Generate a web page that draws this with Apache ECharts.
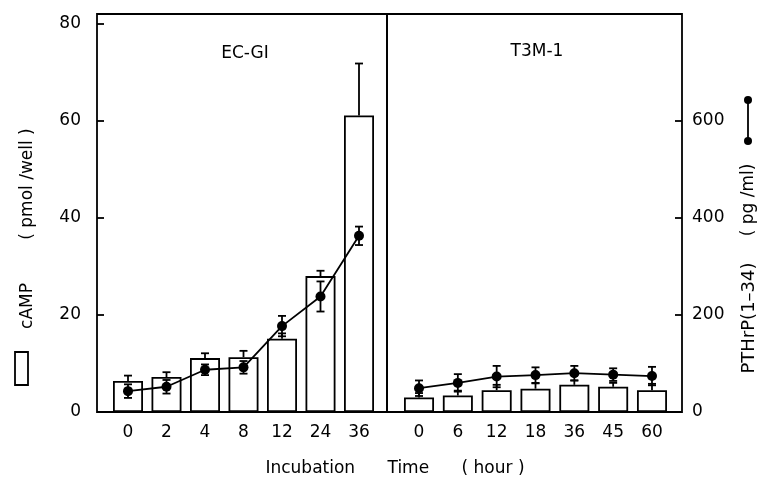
<!DOCTYPE html>
<html>
<head>
<meta charset="utf-8">
<script src="https://cdn.jsdelivr.net/npm/echarts@6/dist/echarts.min.js"></script>
<style>
  html, body { margin: 0; padding: 0; background: #fff; }
  #chart { width: 759px; height: 477px; }
</style>
</head>
<body>
<div id="chart"></div>
<script>
// 横轴分类（小时）
var leftHours = ['0', '2', '4', '8', '12', '24', '36'];
var rightHours = ['0', '6', '12', '18', '36', '45', '60'];

// EC-GI
var ecgiCamp = [6.4, 7.2, 11.1, 11.3, 15.1, 28.0, 61.1];
var ecgiCampErr = [1.1, 1.0, 1.0, 1.3, 1.1, 1.1, 10.7];
var ecgiPthrp = [43, 52, 87, 92, 177, 238, 363];
var ecgiPthrpErr = [14, 14, 11, 13, 21, 31, 19];

// T3M-1
var t3mCamp = [3.0, 3.4, 4.5, 4.8, 5.6, 5.2, 4.5];
var t3mCampErr = [0.9, 1.0, 1.1, 1.1, 0.9, 0.8, 1.3];
var t3mPthrp = [49, 60, 73, 76, 80, 77, 74];
var t3mPthrpErr = [16, 18, 22, 16, 15, 13, 19];

// 纵轴刻度
var leftTicks = [0, 20, 40, 60, 80];
var rightTicks = [0, 200, 400, 600];

var FONT = 'DejaVu Sans';
var LW = 1.8;

function errData(vals, errs) {
  return vals.map(function (v, i) { return [i, v, errs[i]]; });
}

// 误差线，both=true 时上下都画
function errorItem(both) {
  return function (params, api) {
    var x = api.value(0), v = api.value(1), e = api.value(2);
    var top = api.coord([x, v + e]);
    var bot = api.coord([x, both ? v - e : v]);
    var w = 8;
    var st = { stroke: '#000', lineWidth: LW };
    var children = [
      { type: 'line', shape: { x1: top[0], y1: top[1], x2: bot[0], y2: bot[1] }, style: st },
      { type: 'line', shape: { x1: top[0] - w / 2, y1: top[1], x2: top[0] + w / 2, y2: top[1] }, style: st }
    ];
    if (both) {
      children.push({ type: 'line', shape: { x1: bot[0] - w / 2, y1: bot[1], x2: bot[0] + w / 2, y2: bot[1] }, style: st });
    }
    return { type: 'group', children: children };
  };
}

var chart = echarts.init(document.getElementById('chart'));

var hiddenY = function (grid, max) {
  return { type: 'value', gridIndex: grid, min: 0, max: max, show: false, splitLine: { show: false } };
};

var catX = function (grid, data) {
  return {
    type: 'category', gridIndex: grid, data: data, boundaryGap: true,
    axisLine: { show: false }, axisTick: { show: false },
    axisLabel: { color: '#000', fontFamily: FONT, fontSize: 17, margin: 12 }
  };
};

var txt = { fontFamily: FONT, fontSize: 17, fontWeight: 'normal', color: '#000' };

var option = {
  animation: false,
  backgroundColor: '#fff',
  title: [
    { text: 'EC-GI', left: 240, top: 40, textAlign: 'center', textStyle: txt },
    { text: 'T3M-1', left: 532, top: 38, textAlign: 'center', textStyle: txt },
    { text: 'Incubation      Time      ( hour )', left: 390, top: 455, textAlign: 'center', textStyle: txt }
  ],
  grid: [
    // 外框
    { left: 97, top: 14, width: 290, height: 398, show: true, borderColor: '#000', borderWidth: LW },
    { left: 108.75, top: 14, width: 269.5, height: 398 },
    { left: 387, top: 14, width: 295, height: 398, show: true, borderColor: '#000', borderWidth: LW },
    { left: 399.6, top: 14, width: 271.8, height: 398 }
  ],
  xAxis: [
    { type: 'value', gridIndex: 0, show: false },
    catX(1, leftHours),
    { type: 'value', gridIndex: 2, show: false },
    catX(3, rightHours)
  ],
  yAxis: [
    {
      type: 'value', gridIndex: 0, position: 'left', min: 0, max: 82, interval: 20,
      axisLine: { show: false, onZero: false }, splitLine: { show: false },
      axisTick: { show: true, inside: true, length: 7, customValues: leftTicks, lineStyle: { color: '#000', width: LW } },
      axisLabel: { customValues: leftTicks, color: '#000', fontFamily: FONT, fontSize: 17, margin: 16 }
    },
    hiddenY(1, 82),
    hiddenY(1, 820),
    hiddenY(3, 82),
    hiddenY(3, 820),
    {
      type: 'value', gridIndex: 2, position: 'right', min: 0, max: 820, interval: 200,
      axisLine: { show: false, onZero: false }, splitLine: { show: false },
      axisTick: { show: true, inside: true, length: 7, customValues: rightTicks, lineStyle: { color: '#000', width: LW } },
      axisLabel: { customValues: rightTicks, color: '#000', fontFamily: FONT, fontSize: 17, margin: 10 }
    }
  ],
  series: [
    {
      type: 'bar', xAxisIndex: 1, yAxisIndex: 1, data: ecgiCamp, barWidth: 30,
      itemStyle: { color: '#fff', borderColor: '#000', borderWidth: LW }
    },
    {
      type: 'custom', xAxisIndex: 1, yAxisIndex: 1, data: errData(ecgiCamp, ecgiCampErr),
      renderItem: errorItem(false), encode: { x: 0, y: 1 }, z: 3
    },
    {
      type: 'line', xAxisIndex: 1, yAxisIndex: 2, data: ecgiPthrp, symbol: 'circle', symbolSize: 10,
      itemStyle: { color: '#000' }, lineStyle: { color: '#000', width: LW }, z: 4
    },
    {
      type: 'custom', xAxisIndex: 1, yAxisIndex: 2, data: errData(ecgiPthrp, ecgiPthrpErr),
      renderItem: errorItem(true), encode: { x: 0, y: 1 }, z: 4
    },
    {
      type: 'bar', xAxisIndex: 3, yAxisIndex: 3, data: t3mCamp, barWidth: 30,
      itemStyle: { color: '#fff', borderColor: '#000', borderWidth: LW }
    },
    {
      type: 'custom', xAxisIndex: 3, yAxisIndex: 3, data: errData(t3mCamp, t3mCampErr),
      renderItem: errorItem(false), encode: { x: 0, y: 1 }, z: 3
    },
    {
      type: 'line', xAxisIndex: 3, yAxisIndex: 4, data: t3mPthrp, symbol: 'circle', symbolSize: 10,
      itemStyle: { color: '#000' }, lineStyle: { color: '#000', width: LW }, z: 4
    },
    {
      type: 'custom', xAxisIndex: 3, yAxisIndex: 4, data: errData(t3mPthrp, t3mPthrpErr),
      renderItem: errorItem(true), encode: { x: 0, y: 1 }, z: 4
    }
  ],
  graphic: [
    // 左侧纵轴标题与图例方框
    { type: 'text', x: 28, y: 306, rotation: Math.PI / 2,
      style: { text: 'cAMP', fontFamily: FONT, fontSize: 17, fill: '#000', align: 'center', verticalAlign: 'middle' } },
    { type: 'text', x: 28, y: 184, rotation: Math.PI / 2,
      style: { text: '( pmol /well )', fontFamily: FONT, fontSize: 17, fill: '#000', align: 'center', verticalAlign: 'middle' } },
    { type: 'rect', shape: { x: 15, y: 352, width: 13, height: 33 }, style: { fill: '#fff', stroke: '#000', lineWidth: LW } },
    // 右侧纵轴标题与图例
    { type: 'text', x: 749, y: 318, rotation: Math.PI / 2,
      style: { text: 'PTHrP(1\u201334)', fontFamily: FONT, fontSize: 18, fill: '#000', align: 'center', verticalAlign: 'middle' } },
    { type: 'text', x: 749, y: 200, rotation: Math.PI / 2,
      style: { text: '( pg /ml)', fontFamily: FONT, fontSize: 17, fill: '#000', align: 'center', verticalAlign: 'middle' } },
    { type: 'line', shape: { x1: 748, y1: 100, x2: 748, y2: 141 }, style: { stroke: '#000', lineWidth: LW } },
    { type: 'circle', shape: { cx: 748, cy: 100, r: 4 }, style: { fill: '#000' } },
    { type: 'circle', shape: { cx: 748, cy: 141, r: 4 }, style: { fill: '#000' } }
  ]
};

chart.setOption(option);
window.addEventListener('resize', function () {
  chart.resize();
});
</script>
</body>
</html>
